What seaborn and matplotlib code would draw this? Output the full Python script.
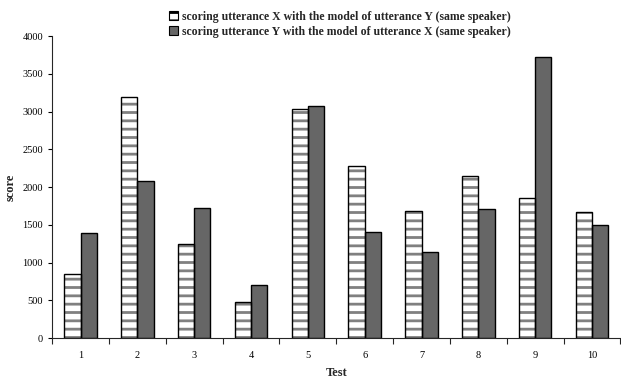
import matplotlib
matplotlib.use("Agg")
import matplotlib.pyplot as plt
import seaborn as sns
import pandas as pd

tests = ["1", "2", "3", "4", "5", "6", "7", "8", "9", "10"]
score_x_with_y = [855, 3190, 1245, 480, 3040, 2285, 1680, 2140, 1850, 1670]
score_y_with_x = [1395, 2075, 1725, 700, 3070, 1410, 1140, 1710, 3720, 1500]
series_names = [
    "scoring utterance X with the model of utterance Y (same speaker)",
    "scoring utterance Y with the model of utterance X (same speaker)",
]

df = pd.DataFrame({
    "Test": tests * 2,
    "score": score_x_with_y + score_y_with_x,
    "series": [series_names[0]] * len(tests) + [series_names[1]] * len(tests),
})

sns.set_style("ticks")
plt.rcParams["font.family"] = ["Liberation Serif", "DejaVu Serif"]
plt.rcParams["hatch.linewidth"] = 2.0

fig, ax = plt.subplots(figsize=(6.21, 3.79), dpi=100)
fig.subplots_adjust(left=0.084, right=0.999, top=0.905, bottom=0.108)

bar_kw = dict(data=df, x="Test", y="score", hue="series", order=tests,
              hue_order=series_names, width=0.57, gap=0, ax=ax)

# filled bars (hatch takes the edge colour, so edge is grey here)
sns.barplot(palette=["white", "#666666"], edgecolor="#808080", linewidth=0,
            saturation=1, **bar_kw)
n = len(tests)
for patch in ax.patches[:n]:
    patch.set_hatch("--")
handles, labels = ax.get_legend_handles_labels()

# black outlines on top
sns.barplot(palette=["black", "black"], fill=False, linewidth=1.0,
            legend=False, **bar_kw)

ax.set_ylim(0, 4000)
ax.set_xlim(-0.5, n - 0.5)
ax.set_yticks(range(0, 4001, 500))
ax.tick_params(axis="both", labelsize=7.5, length=3, width=0.8, colors="black")
ax.tick_params(axis="x", which="major", length=0, pad=9)
ax.set_xticks([i + 0.5 for i in range(-1, n)], minor=True)
ax.tick_params(axis="x", which="minor", length=4, width=0.8)
for s in ["top", "right"]:
    ax.spines[s].set_visible(False)
ax.spines["left"].set_linewidth(0.8)
ax.spines["bottom"].set_linewidth(0.8)

ax.set_xlabel("Test", fontsize=9, fontweight="bold", labelpad=5)
ax.set_ylabel("score", fontsize=9, fontweight="bold")
ax.yaxis.set_label_coords(-0.062, 0.5)

for h in handles:
    h.set_edgecolor("black")
    h.set_linewidth(0.8)
handles[0].set_hatch("--")
ax.legend(handles, labels, loc="lower center", bbox_to_anchor=(0.506, 0.975),
          frameon=False, prop={"size": 8.5, "weight": "bold"},
          handlelength=0.75, handleheight=0.75, handletextpad=0.35,
          labelspacing=0.25, borderpad=0)

fig.savefig("out.png", dpi=100)
